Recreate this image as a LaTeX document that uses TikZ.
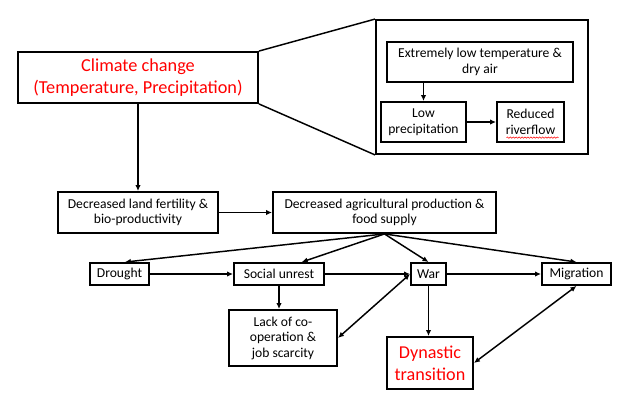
\documentclass[tikz,border=0pt]{standalone}
\usepackage{fontspec}
\setmainfont{Carlito}
\usetikzlibrary{arrows.meta,decorations.pathmorphing}

\begin{document}
\begin{tikzpicture}[x=.75pt, y=-.75pt,
        box/.style={draw, line width=1.4pt, align=center, inner sep=1pt, font=\fontsize{10.2}{11.6}\selectfont},
        bigred/.style={box, text=red, font=\fontsize{13.7}{17}\selectfont},
        arr/.style={-{Latex[length=4.5pt, width=4pt]}, line width=1.1pt},
        darr/.style={{Latex[length=4.5pt, width=4pt]}-{Latex[length=4.5pt, width=4pt]}, line width=1.1pt}]
        \useasboundingbox (0,0) rectangle (633,404);
        \node[bigred, minimum width=180pt, minimum height=38.25pt] (clim) at (138,77.5) {Climate change\\(Temperature, Precipitation)};
        \node[box, minimum width=159pt, minimum height=100.5pt] (frame) at (482,87) {};
        \node[box, minimum width=139.5pt, minimum height=30pt] (ext) at (480,62) {Extremely low temperature \&\\dry air};
        \node[box, minimum width=63.75pt, minimum height=30pt] (lowp) at (423.5,122) {Low\\precipitation};
        \node[box, minimum width=50.25pt, minimum height=30pt] (river) at (530.5,122) {Reduced\\riverflow};
        \node[box, minimum width=120pt, minimum height=30.75pt] (land) at (138,212.5) {Decreased land fertility \&\\bio-productivity};
        \node[box, minimum width=167.25pt, minimum height=30.75pt] (agri) at (384.5,212.5) {Decreased agricultural production \&\\food supply};
        \node[box, minimum width=44.25pt, minimum height=16.5pt] (drought) at (119.5,274) {Drought};
        \node[box, minimum width=67.5pt, minimum height=16.5pt] (social) at (279,274) {Social unrest};
        \node[box, minimum width=26.25pt, minimum height=16.5pt] (war) at (428.5,274) {War};
        \node[box, minimum width=51.75pt, minimum height=16.5pt] (migr) at (576.5,274) {Migration};
        \node[box, minimum width=81pt, minimum height=42pt] (lack) at (283,338) {Lack of co-\\operation \&\\job scarcity};
        \node[bigred, font=\fontsize{13.6}{16.5}\selectfont, minimum width=64.5pt, minimum height=39pt] (dyn) at (430,363) {Dynastic\\transition};

        \draw[line width=1.1pt] (clim.north east) -- (frame.north west);
        \draw[line width=1.1pt] (clim.south east) -- (frame.south west);
        \draw[red, line width=.4pt, decorate, decoration={snake, amplitude=.5pt, segment length=2.2pt}] ([xshift=-18pt, yshift=4pt]river.south) -- ([xshift=21pt, yshift=4pt]river.south);

        \draw[arr] (lowp.north |- ext.south) -- (lowp.north);
        \draw[arr] (lowp) -- (river);
        \draw[arr] (clim) -- (land);
        \draw[arr] (land) -- (agri);
        \draw[arr] (agri.south) -- ([xshift=4pt]drought.north);
        \draw[arr] (agri.south) -- ([xshift=17pt]social.north);
        \draw[arr] (agri.south) -- (war.north);
        \draw[arr] (agri.south) -- (migr.north);
        \draw[arr] (drought) -- (social);
        \draw[arr] (social) -- (war);
        \draw[arr] (war) -- (migr);
        \draw[arr] (social.south) -- (social.south |- lack.north);
        \draw[arr] (war.south) -- (war.south |- dyn.north);
        \draw[darr] (lack.east) -- (war.west);
        \draw[darr] (dyn.east) -- (migr.south);
    \end{tikzpicture}
\end{document}
